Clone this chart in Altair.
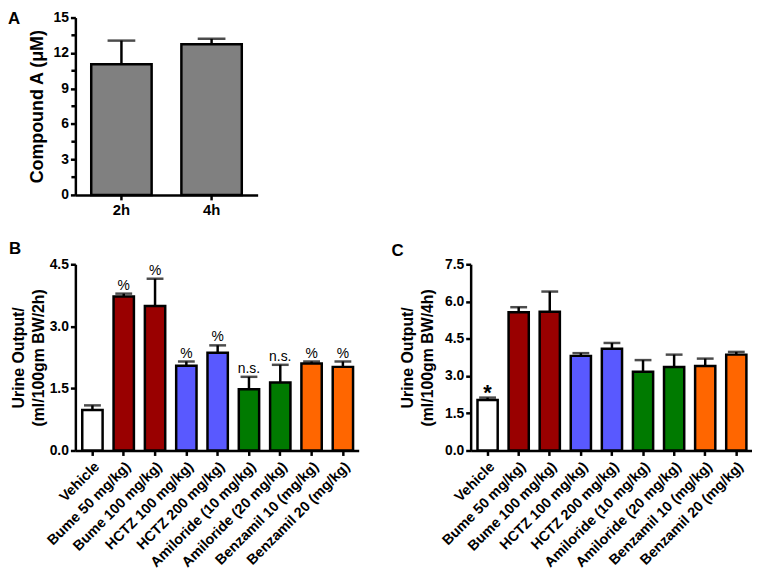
import altair as alt
import pandas as pd

FONT = "Liberation Sans"

# ---- Panel A data ----
A_CATS = ["2h", "4h"]
A_VALS = [11.05, 12.75]
A_ERR = [2.0, 0.45]
A_TICKS = [0, 3, 6, 9, 12, 15]
A_MINOR = [1.5, 4.5, 7.5, 10.5, 13.5]
A_COLORS = ["#808080", "#808080"]

# ---- Panels B / C data ----
CATS = [
    "Vehicle",
    "Bume 50 mg/kg)",
    "Bume 100 mg/kg)",
    "HCTZ 100 mg/kg)",
    "HCTZ 200 mg/kg)",
    "Amiloride (10 mg/kg)",
    "Amiloride (20 mg/kg)",
    "Benzamil 10 (mg/kg)",
    "Benzamil 20 (mg/kg)",
]
COLORS = ["#FFFFFF", "#990000", "#990000", "#5959FF", "#5959FF",
          "#007A00", "#007A00", "#FF6600", "#FF6600"]

B_VALS = [0.98, 3.72, 3.49, 2.05, 2.36, 1.48, 1.64, 2.10, 2.02]
B_ERR = [0.11, 0.07, 0.66, 0.10, 0.18, 0.30, 0.43, 0.05, 0.13]
B_NOTE = ["", "%", "%", "%", "%", "n.s.", "n.s.", "%", "%"]
B_TICKS = [0, 1.5, 3.0, 4.5]

C_VALS = [2.03, 5.57, 5.59, 3.81, 4.10, 3.17, 3.36, 3.40, 3.86]
C_ERR = [0.10, 0.20, 0.81, 0.11, 0.23, 0.47, 0.50, 0.30, 0.11]
C_NOTE = ["*", "", "", "", "", "", "", "", ""]
C_TICKS = [0, 1.5, 3.0, 4.5, 6.0, 7.5]

LW = 2.5


def panel(cats, vals, errs, notes, colors, ymax, yticks, fmt, title, tpad,
          tsize, letter, lx, ly, width, height, pin, pout, align, cap,
          xangle, xsize, xpad, note_size=13, note_weight="normal", note_dy=-4,
          minor=None):
    df = pd.DataFrame({
        "cat": cats,
        "val": vals,
        "top": [v + e for v, e in zip(vals, errs)],
        "note": notes,
        "fill": colors,
    })
    xaxis = alt.Axis(title=None, labelAngle=xangle, labelFontSize=xsize,
                     labelPadding=xpad)
    xscale = alt.Scale(paddingInner=pin, paddingOuter=pout, align=align)
    yaxis = alt.Axis(values=yticks, format=fmt, title=title, titlePadding=tpad,
                     titleFontSize=tsize, labelOverlap=False,
                     tickCount=len(yticks))
    yscale = alt.Scale(domain=[0, ymax], nice=False, zero=True)

    def X():
        return alt.X("cat:N", sort=cats, scale=xscale, axis=xaxis)

    def Y(field):
        return alt.Y(field, scale=yscale, axis=yaxis)

    base = alt.Chart(df)
    bars = base.mark_bar(strokeWidth=LW).encode(
        x=X(), y=Y("val:Q"),
        fill=alt.Fill("fill:N", scale=None),
        stroke=alt.value("black"),
    )
    rule = base.mark_rule(color="black", strokeWidth=LW).encode(
        x=X(), y=Y("val:Q"), y2="top:Q")
    caps = base.mark_tick(color="black", thickness=LW, size=cap).encode(
        x=X(), y=Y("top:Q"))
    text = base.mark_text(baseline="alphabetic", dy=note_dy, fontSize=note_size,
                          fontWeight=note_weight, font=FONT, color="black").encode(
        x=X(), y=Y("top:Q"), text="note:N")
    lab = alt.Chart(pd.DataFrame({"t": [letter]})).mark_text(
        align="left", baseline="top", fontSize=17, fontWeight="bold",
        font=FONT, color="black").encode(
        x=alt.value(lx), y=alt.value(ly), text="t:N")
    layers = [bars, rule, caps, text, lab]
    if minor is not None:
        mdf = pd.DataFrame({"val": minor})
        mt = alt.Chart(mdf).mark_rule(color="black", strokeWidth=LW).encode(
            x=alt.value(-4), x2=alt.value(0), y=Y("val:Q"))
        layers.append(mt)
    return alt.layer(*layers).properties(width=width, height=height)


a = panel(A_CATS, A_VALS, A_ERR, ["", ""], A_COLORS, 15, A_TICKS, "d",
          "Compound A (μM)", 7, 18, "A", -68, -6, 184, 179, 0.33, 0.176, 0.5,
          28, 0, 15, 3, minor=A_MINOR)

b = panel(CATS, B_VALS, B_ERR, B_NOTE, COLORS, 4.5, B_TICKS, ".1f",
          ["Urine Output/", "(ml/100gm BW/2h)"], 3, 16, "B", -67, -23, 286,
          188, 0.35, 0.2, 0.55, 17, -45, 14.5, 4, note_size=14)

c = panel(CATS, C_VALS, C_ERR, C_NOTE, COLORS, 7.5, C_TICKS, ".1f",
          ["Urine Output/", "(ml/100gm BW/4h)"], 9, 16, "C", -80, -21, 284,
          188, 0.35, 0.2, 0.55, 17, -45, 14.5, 4, note_size=22,
          note_weight="bold", note_dy=2)

bottom = alt.hconcat(b, c, spacing=113, bounds="flush")
chart = alt.vconcat(a, bottom, spacing=70, bounds="flush").properties(
    padding=0
).configure(font=FONT).configure_axis(
    domainColor="black", domainWidth=LW, tickColor="black", tickWidth=LW,
    tickSize=5, labelColor="black", labelFont=FONT, labelFontWeight="bold",
    labelFontSize=14, labelPadding=2, titleFont=FONT, titleFontWeight="bold",
    titleFontSize=16, titleColor="black", titleLineHeight=20, grid=False,
).configure_view(strokeWidth=0)

chart.save("out.html", embed_options={"renderer": "svg", "actions": False})
